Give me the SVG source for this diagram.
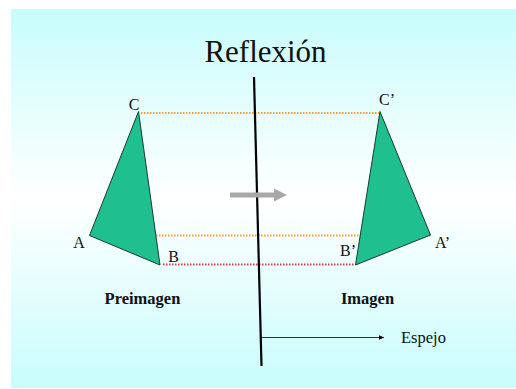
<svg xmlns="http://www.w3.org/2000/svg" width="516" height="389" viewBox="0 0 516 389">
<defs>
<linearGradient id="bg" x1="0" y1="0" x2="0" y2="1">
<stop offset="0" stop-color="#c8fcfc"/>
<stop offset="0.5" stop-color="#ffffff"/>
<stop offset="1" stop-color="#c8fcfc"/>
</linearGradient>
<marker id="ah" markerWidth="6" markerHeight="6" refX="5" refY="3" orient="auto" markerUnits="userSpaceOnUse">
<path d="M0,0.8 L5,3 L0,5.2 Z" fill="#000"/>
</marker>
</defs>
<style>
.lbl{font-family:"Liberation Serif","Times New Roman",serif;fill:#111;}
.tri{fill:#1fbf8f;stroke:#1a3a30;stroke-width:1;}
.dot-o{stroke:#f0a030;stroke-width:2;stroke-dasharray:1.5 1.5;fill:none;}
.dot-r{stroke:#d04545;stroke-width:2;stroke-dasharray:1.5 1.5;fill:none;}
</style>
<rect x="0" y="0" width="516" height="389" fill="#ffffff"/>
<rect x="11" y="9" width="505" height="379" fill="url(#bg)"/>
<text class="lbl" x="265.5" y="62" font-size="31" text-anchor="middle">Reflexión</text>
<g id="connectors">
<line class="dot-o" x1="141" y1="113" x2="379" y2="113"/>
<line class="dot-o" x1="90" y1="235.5" x2="431" y2="235.5"/>
<line class="dot-r" x1="163" y1="264.5" x2="355" y2="264.5"/>
<line x1="254" y1="77" x2="261.5" y2="366" stroke="#000" stroke-width="2.2"/>
<path d="M230,195 L276,195" stroke="#a8a8a8" stroke-width="5" fill="none"/>
<path d="M274,188.5 L287,195 L274,201.5 Z" fill="#a8a8a8"/>
<line x1="260" y1="337.5" x2="384" y2="337.5" stroke="#000" stroke-width="0.8" marker-end="url(#ah)"/>
</g>
<g id="preimagen">
<polygon class="tri" points="138.5,111.5 89.5,235.5 160,265"/>
<text class="lbl" x="134" y="110" font-size="16" text-anchor="middle">C</text>
<text class="lbl" x="79" y="248" font-size="16" text-anchor="middle">A</text>
<text class="lbl" x="173.5" y="262" font-size="16" text-anchor="middle">B</text>
<text class="lbl" x="142.5" y="304" font-size="16.5" font-weight="bold" text-anchor="middle">Preimagen</text>
</g>
<g id="imagen">
<polygon class="tri" points="380,111.5 430.5,235 355.5,265"/>
<text class="lbl" x="387" y="105" font-size="16" text-anchor="middle">C’</text>
<text class="lbl" x="442.5" y="248" font-size="16" text-anchor="middle">A’</text>
<text class="lbl" x="348" y="256" font-size="16" text-anchor="middle">B’</text>
<text class="lbl" x="367.5" y="304" font-size="16.5" font-weight="bold" text-anchor="middle">Imagen</text>
</g>
<g id="espejo">
<text class="lbl" x="401" y="343" font-size="16.5">Espejo</text>
</g>
</svg>
